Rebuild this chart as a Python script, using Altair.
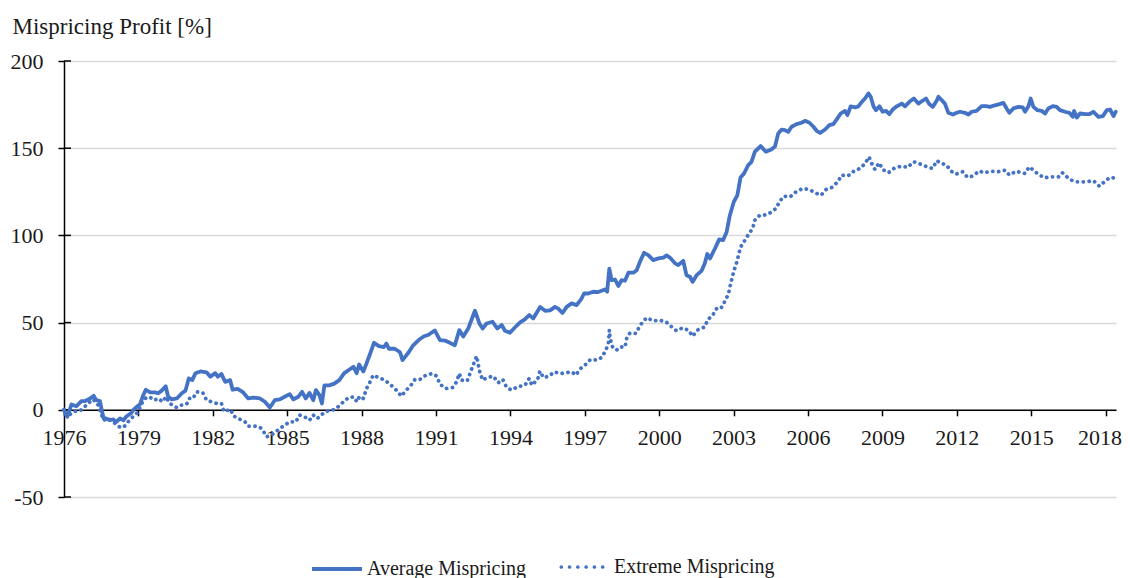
import altair as alt
import pandas as pd

# ---------------- data ----------------
series_names = ["Average Mispricing", "Extreme Mispricing"]

avg_years = [
    1976.00, 1976.06, 1976.13, 1976.30, 1976.50, 1976.70, 1976.85, 1977.00, 1977.20, 1977.30,
    1977.45, 1977.55, 1977.60, 1977.70, 1977.85, 1977.99, 1978.10, 1978.26, 1978.40, 1978.50,
    1978.70, 1978.80, 1978.95, 1979.06, 1979.20, 1979.30, 1979.47, 1979.67, 1979.80, 1979.94,
    1980.10, 1980.20, 1980.35, 1980.55, 1980.75, 1980.90, 1981.03, 1981.17, 1981.30, 1981.50,
    1981.75, 1981.90, 1982.10, 1982.20, 1982.35, 1982.50, 1982.70, 1982.80, 1983.00, 1983.20,
    1983.43, 1983.63, 1983.90, 1984.10, 1984.30, 1984.50, 1984.70, 1984.90, 1985.10, 1985.25,
    1985.45, 1985.60, 1985.75, 1985.90, 1986.05, 1986.16, 1986.30, 1986.40, 1986.50, 1986.70,
    1986.90, 1987.10, 1987.30, 1987.50, 1987.67, 1987.80, 1987.90, 1988.07, 1988.20, 1988.34,
    1988.50, 1988.70, 1988.90, 1989.00, 1989.10, 1989.34, 1989.55, 1989.65, 1989.90, 1990.08,
    1990.30, 1990.50, 1990.70, 1990.95, 1991.16, 1991.36, 1991.56, 1991.76, 1991.94, 1992.10,
    1992.30, 1992.57, 1992.75, 1992.88, 1993.04, 1993.28, 1993.47, 1993.65, 1993.78, 1993.98,
    1994.18, 1994.38, 1994.58, 1994.76, 1994.92, 1995.20, 1995.40, 1995.60, 1995.80, 1995.93,
    1996.10, 1996.27, 1996.47, 1996.67, 1996.87, 1996.97, 1997.14, 1997.34, 1997.54, 1997.81,
    1997.90, 1997.99, 1998.08, 1998.22, 1998.35, 1998.49, 1998.62, 1998.76, 1998.96, 1999.09,
    1999.23, 1999.39, 1999.56, 1999.76, 1999.97, 2000.17, 2000.30, 2000.43, 2000.64, 2000.77,
    2000.97, 2001.10, 2001.24, 2001.35, 2001.51, 2001.71, 2001.84, 2001.94, 2002.05, 2002.25,
    2002.42, 2002.58, 2002.72, 2002.85, 2003.01, 2003.15, 2003.28, 2003.42, 2003.59, 2003.72,
    2003.86, 2004.09, 2004.30, 2004.52, 2004.67, 2004.80, 2004.94, 2005.07, 2005.20, 2005.34,
    2005.54, 2005.74, 2005.88, 2006.06, 2006.22, 2006.35, 2006.49, 2006.69, 2006.86, 2007.02,
    2007.16, 2007.32, 2007.49, 2007.59, 2007.72, 2007.90, 2008.03, 2008.17, 2008.30, 2008.44,
    2008.53, 2008.64, 2008.74, 2008.88, 2009.01, 2009.15, 2009.28, 2009.42, 2009.58, 2009.78,
    2009.91, 2010.09, 2010.27, 2010.45, 2010.62, 2010.76, 2010.89, 2011.03, 2011.19, 2011.26,
    2011.39, 2011.53, 2011.66, 2011.84, 2012.00, 2012.13, 2012.33, 2012.47, 2012.60, 2012.80,
    2013.00, 2013.18, 2013.34, 2013.54, 2013.72, 2013.88, 2014.01, 2014.12, 2014.28, 2014.49,
    2014.66, 2014.75, 2014.89, 2014.98, 2015.09, 2015.25, 2015.42, 2015.56, 2015.69, 2015.87,
    2016.03, 2016.16, 2016.36, 2016.54, 2016.68, 2016.73, 2016.84, 2016.97, 2017.17, 2017.35,
    2017.51, 2017.71, 2017.89, 2018.05, 2018.18, 2018.32, 2018.41,
]
avg_values = [
    0, -2, -4, 3, 2, 5, 5, 6, 8, 5.5,
    5, -2, -5, -5, -6, -5.5, -7, -5, -6, -4,
    -2, 0, 2, 3, 8.5, 11.5, 10, 10, 9.5, 11,
    13.5, 7.5, 6, 6.5, 9.5, 11, 18, 17, 21, 22,
    21.5, 19, 21, 19, 20.5, 16, 17, 11.5, 12, 10.3,
    6.5, 7, 6.5, 4.6, 1.3, 5.5, 6, 7.5, 9, 6,
    7.5, 10.3, 6.5, 9.7, 5.5, 11.3, 8.4, 3.6, 14, 14,
    15, 17, 21, 23, 24.7, 21, 26, 22, 26.6, 32,
    38.4, 36.5, 36, 38, 35, 35, 33, 28.5, 33, 37,
    40, 42, 43, 45.5, 40, 39.7, 38.4, 37, 45.7, 42,
    46.6, 56.8, 49.5, 46.6, 49.5, 50.5, 46.6, 48.6, 45.3, 44.2,
    47.2, 50, 51.8, 54.3, 52.4, 59, 56.8, 57, 59, 58,
    55.5, 59, 61, 60, 63.8, 66.7, 66.7, 67.7, 67.5, 69,
    67.7, 81, 74.4, 74.7, 71, 74.4, 74, 78.6, 78.6, 80,
    85, 90, 88.7, 85.8, 86.8, 87.3, 88.5, 87.3, 84, 83,
    85.4, 77.2, 76.3, 73.4, 77.2, 79.7, 84, 89.3, 86.8, 92.5,
    97.7, 97.3, 102, 111.6, 119.3, 123, 133.2, 135.5, 140.3, 142.2,
    148, 151.2, 148, 149.3, 151, 158.5, 160.7, 160.4, 159.4, 162.3,
    163.8, 164.6, 165.7, 164.6, 162.3, 160, 158.8, 160.7, 163.2, 163.8,
    166.5, 169.9, 171.4, 169, 174, 173.4, 174, 176.6, 178.5, 181.4,
    179.5, 174, 171.8, 174, 170.9, 171.4, 169.5, 172.2, 174, 175.6,
    174, 176.6, 178.5, 175.6, 177.2, 178.5, 175.3, 173.7, 177.2, 179.5,
    177.6, 175.3, 170.3, 169.3, 170.3, 170.9, 170.3, 169.3, 170.9, 171.4,
    174.1, 174.1, 173.7, 174.6, 175.3, 176, 172.8, 170.3, 172.8, 173.7,
    173.4, 170.9, 174.1, 178.5, 173.7, 171.8, 171.4, 169.9, 172.8, 174.1,
    173.7, 171.8, 170.9, 170.3, 168, 171.4, 167.6, 169.9, 169.5, 169.5,
    170.9, 168, 168.4, 171.8, 172.2, 168.4, 170.9,
]

ext_years = [
    1976.00, 1976.04, 1976.13, 1976.38, 1976.65, 1976.85, 1977.05, 1977.18, 1977.38, 1977.59,
    1977.79, 1977.99, 1978.26, 1978.40, 1978.53, 1978.66, 1978.86, 1979.00, 1979.13, 1979.27,
    1979.44, 1979.63, 1979.80, 1979.98, 1980.11, 1980.27, 1980.54, 1980.74, 1980.95, 1981.05,
    1981.20, 1981.35, 1981.60, 1981.75, 1981.95, 1982.16, 1982.35, 1982.45, 1982.72, 1982.83,
    1983.03, 1983.30, 1983.43, 1983.70, 1983.90, 1984.03, 1984.17, 1984.37, 1984.54, 1984.70,
    1984.84, 1985.10, 1985.35, 1985.50, 1985.70, 1985.90, 1986.05, 1986.20, 1986.32, 1986.45,
    1986.65, 1986.92, 1987.13, 1987.33, 1987.55, 1987.73, 1987.80, 1987.93, 1988.07, 1988.20,
    1988.34, 1988.47, 1988.67, 1988.94, 1989.20, 1989.40, 1989.60, 1989.80, 1989.97, 1990.15,
    1990.35, 1990.60, 1990.86, 1991.03, 1991.16, 1991.40, 1991.67, 1991.83, 1991.94, 1992.03,
    1992.26, 1992.37, 1992.48, 1992.64, 1992.70, 1992.77, 1992.88, 1993.07, 1993.31, 1993.51,
    1993.69, 1993.85, 1994.05, 1994.28, 1994.59, 1994.76, 1994.86, 1995.10, 1995.19, 1995.33,
    1995.57, 1995.76, 1996.00, 1996.24, 1996.47, 1996.64, 1996.83, 1997.05, 1997.23, 1997.48,
    1997.68, 1997.85, 1997.95, 1997.99, 1998.02, 1998.12, 1998.28, 1998.42, 1998.62, 1998.69,
    1998.82, 1999.06, 1999.20, 1999.36, 1999.52, 1999.74, 2000.00, 2000.27, 2000.50, 2000.70,
    2000.95, 2001.17, 2001.35, 2001.54, 2001.85, 2001.94, 2002.16, 2002.32, 2002.49, 2002.65,
    2002.79, 2002.86, 2002.94, 2003.02, 2003.12, 2003.20, 2003.29, 2003.46, 2003.62, 2003.77,
    2003.86, 2004.06, 2004.23, 2004.44, 2004.71, 2004.85, 2005.03, 2005.28, 2005.52, 2005.79,
    2006.06, 2006.28, 2006.53, 2006.73, 2006.96, 2007.20, 2007.36, 2007.53, 2007.67, 2007.86,
    2008.10, 2008.30, 2008.46, 2008.57, 2008.70, 2008.87, 2009.01, 2009.24, 2009.47, 2009.75,
    2010.02, 2010.25, 2010.41, 2010.65, 2010.85, 2011.03, 2011.19, 2011.35, 2011.59, 2011.75,
    2011.97, 2012.24, 2012.43, 2012.64, 2012.91, 2013.10, 2013.37, 2013.65, 2013.95, 2014.12,
    2014.39, 2014.62, 2014.75, 2014.92, 2015.06, 2015.25, 2015.52, 2015.83, 2016.10, 2016.26,
    2016.46, 2016.66, 2016.84, 2017.17, 2017.51, 2017.75, 2017.95, 2018.18, 2018.41,
]
ext_values = [
    0, -2, -4, -1, -0.5, 2, 4.6, 6, 2.7, -6,
    -5, -7, -10, -10, -8, -5.5, -3, -1, 3.6, 6.5,
    7.5, 5.5, 6.5, 4.6, 7.5, 3.6, 1.3, 2.7, 3.3, 6.5,
    6.5, 10.3, 9.7, 5.5, 4.6, 3.6, 3.6, -1, 0.2, -3.5,
    -5, -6.9, -9.4, -9.4, -10, -12, -15.5, -14.5, -12.6, -10.7,
    -9.4, -6.9, -6.9, -3, -4, -6, -3, -5, -4, -2,
    -0.6, 0.2, 2.7, 5.5, 7.5, 7, 4.6, 7.8, 6.5, 12.2,
    16, 19.9, 18.5, 17, 14, 11.3, 7.8, 11.3, 13.6, 17.4,
    17.4, 19.9, 20.8, 19.3, 14.7, 12.2, 12.8, 16, 20.8, 17,
    16.6, 20.8, 25, 30.8, 26.2, 21.6, 17, 18.5, 19.3, 15.5,
    17.4, 12.8, 11.3, 13.2, 14.1, 18, 14.1, 17.4, 22.2, 18.5,
    19.3, 21.8, 20.8, 21.2, 21.8, 19.9, 23.7, 26.2, 28.9, 28.5,
    30, 34.2, 38, 45.7, 41, 36, 34.2, 36, 36, 41,
    44, 43.8, 47.6, 51, 52.8, 51, 51.4, 50.5, 47.6, 45.3,
    47, 45.7, 42.2, 45.7, 47.6, 51.4, 54.3, 58.1, 58.1, 62.3,
    66.3, 70.9, 75.7, 80, 84.3, 88.7, 93.5, 97.3, 101, 104,
    108.8, 111.6, 111.6, 112.6, 115.4, 119.3, 122.5, 122.1, 125, 126.9,
    126.3, 124.4, 123.1, 126.3, 127.5, 130.7, 134.6, 134, 134.6, 137,
    138.4, 141.2, 145, 141.2, 137.8, 141.6, 137.8, 135.9, 138.4, 139.7,
    139, 142.2, 141.6, 140.3, 139, 138.4, 142.8, 141.6, 140.3, 137,
    135.1, 136.5, 133.3, 134, 137, 135.9, 136.8, 136.5, 137.4, 134.6,
    136.8, 135.9, 135.5, 139.3, 137.8, 135.5, 133, 133.6, 133.6, 135.9,
    133.3, 131.4, 130.7, 130.7, 131.4, 128.2, 130.7, 133.3, 132.7,
]

x_tick_years = list(range(1976, 2019, 3))
y_tick_values = [-50, 0, 50, 100, 150, 200]

# ---------------- tables ----------------
avg_df = pd.DataFrame({"year": avg_years, "value": avg_values, "series": series_names[0],
                       "order": range(len(avg_years))})
ext_df = pd.DataFrame({"year": ext_years, "value": ext_values, "series": series_names[1],
                       "order": range(len(ext_years))})
ticks_df = pd.DataFrame({"value": y_tick_values})

# ---------------- style ----------------
W, H = 1052, 436
FONT = "Liberation Serif"
BLUE = "#4472C4"
TXT = "#1a1a1a"
Y_MIN, Y_MAX = -50, 200
LW = 3.8

x_scale = alt.Scale(domain=[1976, 2018.42], nice=False, zero=False)
y_scale = alt.Scale(domain=[Y_MIN, Y_MAX], nice=False, zero=False)

y_axis = alt.Axis(
    values=y_tick_values, grid=True, gridColor="#d9d9d9", gridWidth=1.3,
    tickSize=6, tickColor="black", tickWidth=1.5, domainColor="black", domainWidth=1.5,
    labelPadding=15, labelFont=FONT, labelFontSize=22, labelColor=TXT,
    labelExpr="'' + datum.value",
    title="Mispricing Profit [%]", titleAngle=0, titleX=-52, titleY=-28,
    titleAlign="left", titleBaseline="alphabetic", titleFont=FONT,
    titleFontSize=23, titleFontWeight="normal", titleColor=TXT, zindex=0)

# legend symbol for the dotted series: six round dots across the symbol box
_r = 0.08
dots_path = "".join(
    f"M{cx - _r:.3f},0A{_r},{_r} 0 1,0 {cx + _r:.3f},0A{_r},{_r} 0 1,0 {cx - _r:.3f},0Z"
    for cx in (-0.9, -0.54, -0.18, 0.18, 0.54, 0.9)
)

common_legend = dict(
    title=None, orient="none", direction="horizontal",
    labelFont=FONT, labelFontSize=20, labelColor=TXT, labelLimit=0, padding=0,
)


def build(cond_offset):
    x_label_offset = ({"condition": {"test": "datum.value == 2018", "value": -6}, "value": 0}
                      if cond_offset else 0)
    x_enc = alt.X("year:Q", scale=x_scale, axis=alt.Axis(
        values=x_tick_years, format="d", offset=-H * (0 - Y_MIN) / (Y_MAX - Y_MIN),
        grid=False, tickSize=6, tickColor="black", tickWidth=1.5,
        domainColor="black", domainWidth=1.5, labelPadding=12, labelFlush=False,
        labelOverlap=False, labelFont=FONT, labelFontSize=22, labelColor=TXT,
        labelOffset=x_label_offset, title=None, zindex=0))
    y_enc = alt.Y("value:Q", scale=y_scale, axis=y_axis)

    inner_ticks = alt.Chart(ticks_df).mark_rule(color="black", strokeWidth=1.5).encode(
        y=y_enc, x=alt.value(0), x2=alt.value(7),
    )

    ext_line = alt.Chart(ext_df).mark_line(
        color=BLUE, strokeWidth=LW, strokeDash=[0.1, 5.8], strokeCap="round", strokeJoin="round"
    ).encode(x=x_enc, y=y_enc, order="order:Q")

    # legend carrier for the dotted series (draws no marks: all rows filtered out,
    # the legend entry comes from the explicit scale domain)
    ext_key = alt.Chart(ext_df).transform_filter("false").mark_point(
        filled=True, color=BLUE, opacity=1, strokeWidth=0
    ).encode(
        x=x_enc, y=y_enc,
        shape=alt.Shape("series:N", scale=alt.Scale(domain=[series_names[1]], range=[dots_path]),
                        legend=alt.Legend(legendX=495, legendY=483, symbolSize=2116,
                                          symbolFillColor=BLUE, symbolStrokeWidth=0,
                                          labelOffset=9, **common_legend)),
    )

    avg_line = alt.Chart(avg_df).mark_line(
        strokeWidth=LW, strokeCap="round", strokeJoin="round"
    ).encode(
        x=x_enc, y=y_enc,
        color=alt.Color("series:N", scale=alt.Scale(domain=[series_names[0]], range=[BLUE]),
                        legend=alt.Legend(legendX=246, legendY=481, symbolType="stroke",
                                          symbolSize=2500, symbolStrokeWidth=LW,
                                          labelOffset=3, **common_legend)),
        order="order:Q",
    )

    ch = alt.layer(inner_ticks, ext_line, ext_key, avg_line).properties(
        width=W, height=H,
        autosize=alt.AutoSizeParams(type="none"),
        padding={"left": 56, "top": 53, "right": 6, "bottom": 81},
        background="white",
    ).configure_view(stroke=None)
    return ch


try:
    chart = build(True)
    chart.to_dict()
except Exception:
    chart = build(False)

chart.save("out.html", embed_options={"renderer": "svg", "actions": False})
